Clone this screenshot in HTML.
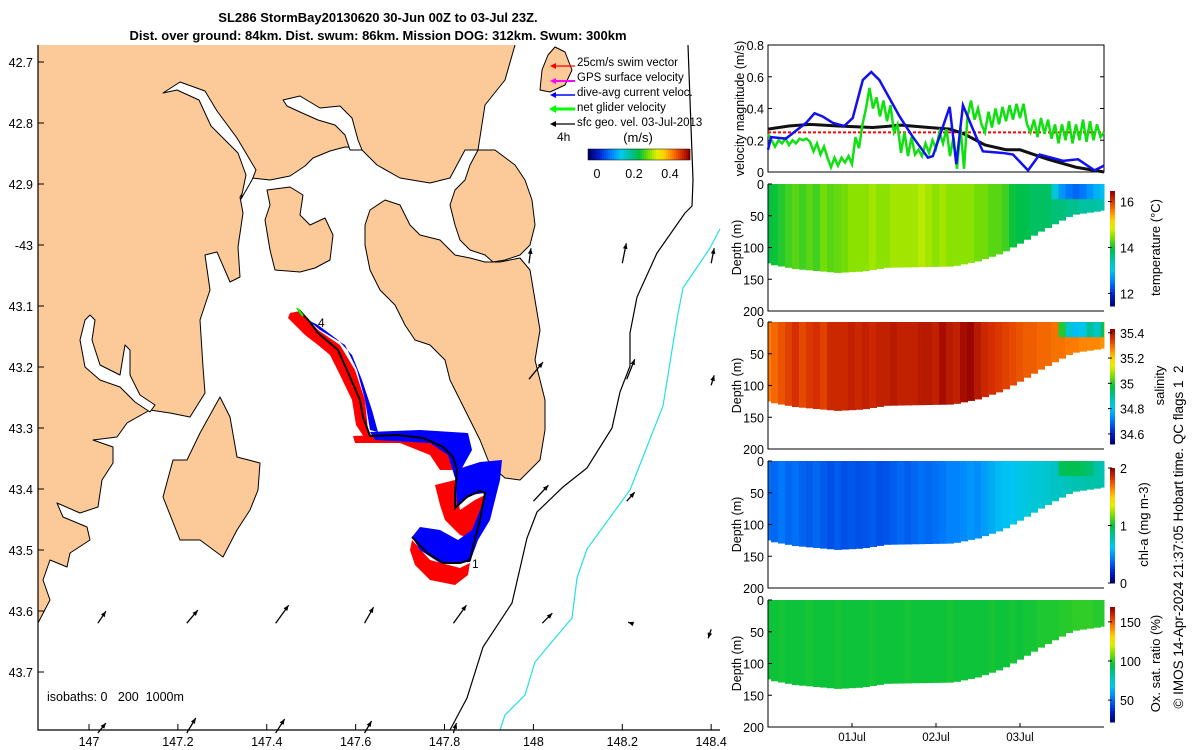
<!DOCTYPE html>
<html><head><meta charset="utf-8"><style>
html,body{margin:0;padding:0;background:#fff;}
svg{display:block;font-family:"Liberation Sans",sans-serif;}
</style></head><body>
<svg id="fig" width="1200" height="750" viewBox="0 0 1200 750" xmlns="http://www.w3.org/2000/svg">
<rect width="1200" height="750" fill="#fff"/>
<g font-weight="bold" font-size="13" text-anchor="middle" fill="#000">
<text x="378" y="22">SL286 StormBay20130620 30-Jun 00Z to 03-Jul 23Z.</text>
<text x="378" y="40">Dist. over ground: 84km. Dist. swum: 86km. Mission DOG: 312km. Swum: 300km</text>
</g>
<g id="map">
<g stroke="#000" stroke-width="1" stroke-linejoin="round">
<rect x="38" y="45" width="682" height="685" fill="#fbca98" stroke="none"/>
<polygon fill="#fff" stroke="none" points="515,45 720,45 720,730 38,730 38,623 50,600 43,580 50,560 67,567 70,553 90,540 87,527 63,517 57,503 80,513 98,507 102,480 113,463 113,447 93,440 117,437 127,423 150,410 170,413 190,417 205,393 203,367 200,320 210,290 205,255 217,252 230,282 240,277 238,247 243,213 240,197 252,178 270,180 290,176 305,166 313,158 330,151 345,147 360,148 377,165 400,178 430,183 450,178 465,150 478,150 485,105 505,80"/>
<polygon fill="#fbca98" stroke="none" points="150,60 380,60 362,147 345,147 330,151 313,158 305,166 290,176 270,180 252,178 240,160 215,120 200,95 180,82"/>
<polygon fill="#fbca98" stroke="none" points="38,190 241,190 238,247 240,277 230,282 217,252 205,255 210,290 200,320 203,367 205,393 190,417 170,413 150,410 127,423 117,437 93,440 38,440"/>
<polyline fill="none" points="38,623 50,600 43,580 50,560 67,567 70,553 90,540 87,527 63,517 57,503 80,513 98,507 102,480 113,463 113,447 93,440 117,437 127,423 150,410 170,413 190,417 205,393 203,367 200,320 210,290 205,255 217,252 230,282 240,277 238,247 243,213 240,197 252,178 270,180 290,176 305,166 313,158 330,151 345,147 360,148 377,165 400,178 430,183 450,178 465,150 478,150 485,105 505,80 515,45"/>
<polygon fill="#fff" points="241,199 246,175 238,153 211,126 199,100 177,90 163,93 180,82 205,91 217,111 237,138 256,170 252,180"/>
<polygon fill="#fff" points="283,100 300,96 320,108 340,106 352,118 358,140 362,150 350,150 345,135 335,125 318,120 300,112 287,106"/>
<polygon fill="#fff" points="90,315 95,320 92,340 100,365 120,375 125,345 130,350 130,375 140,395 155,405 150,412 135,402 120,387 100,380 85,367 80,340 85,320"/>
<g fill="#fbca98">
<polygon points="267,190 290,187 303,195 300,215 310,225 325,218 333,235 330,260 315,268 300,272 275,270 270,250 265,220 270,205"/>
<polygon points="478,150 495,150 515,165 525,180 532,200 535,225 530,245 520,255 505,260 493,262 485,255 470,250 460,240 455,225 450,205 455,190 465,180 470,165"/>
<polygon points="370,210 385,200 400,205 410,225 420,235 440,240 455,255 470,258 485,262 500,262 520,258 530,270 535,300 540,330 535,360 545,400 545,430 540,460 530,470 520,480 505,478 490,465 480,440 470,420 460,400 450,380 445,360 430,345 415,340 405,325 395,305 380,290 370,270 365,245 365,225"/>
<polygon points="220,397 230,417 237,457 260,463 258,490 250,510 237,530 223,557 200,540 180,540 163,497 173,460 187,460 200,433"/>
<polygon points="555,47 565,52 572,70 565,85 550,92 540,90 542,70 548,55"/>
</g>
</g>
<g fill="none">
<polyline stroke="#000" stroke-width="1.2" points="688,45 690,100 693,180 692,206 685,213 657,253 637,297 630,333 630,366 620,392 612,428 587,468 563,487 537,512 527,538 512,603 483,647 467,698 450,730"/>
<polyline stroke="#22e0e8" stroke-width="1.2" points="720,229 710,248 683,288 677,319 663,406 630,490 587,549 577,578 572,618 535,662 525,695 505,715 500,730"/>
</g>
<g id="vectors" stroke="#000" stroke-width="1.3"></g>
<g>
<g fill="#f00">
<polygon points="290,313 300,311 318,330 340,345 355,370 365,400 368,430 372,437 366,440 356,425 352,400 340,375 330,355 318,345 305,335 295,325 288,318"/>
<polygon points="353,436 400,434 440,442 455,455 460,470 440,470 430,455 400,443 355,443"/>
<polygon points="435,485 455,480 460,510 475,500 485,495 482,520 475,540 460,535 445,520 440,505"/>
<polygon points="412,540 430,560 460,568 470,563 468,575 455,585 430,580 415,565 410,550"/>
</g>
<g fill="#00f">
<polygon points="308,320 320,330 345,345 357,370 365,400 370,430 378,432 372,410 362,380 352,355 338,340 318,325"/>
<polygon points="370,432 420,430 468,433 472,450 462,468 455,478 448,455 430,443 375,440"/>
<polygon points="455,470 480,462 502,460 500,480 495,500 490,520 478,540 470,562 440,563 420,550 412,537 420,527 440,530 458,540 472,530 480,510 485,493 470,495 457,505"/>
</g>
<polyline fill="none" stroke="#000" stroke-width="2" points="299,310 310,322 318,333 338,350 350,377 360,400 363,417 370,436 397,435 423,438 443,447 453,457 457,470 455,493 455,508 467,497 480,491 485,493 480,520 473,547 470,560 460,563 443,563 427,553 412,537"/>
<polyline fill="none" stroke="#0f0" stroke-width="2" points="297,308 303,316"/>
<text x="318" y="327" font-size="12">4</text>
<text x="472" y="568" font-size="12">1</text>
</g>
<g font-size="11.5" fill="#000">
<line x1="575" y1="66" x2="553" y2="66" stroke="#f00" stroke-width="1.3"/><polygon points="550,66 556,63 556,69" fill="#f00"/>
<line x1="575" y1="81" x2="553" y2="81" stroke="#f0f" stroke-width="2"/><polygon points="550,81 556,78 556,84" fill="#f0f"/>
<line x1="575" y1="95" x2="553" y2="95" stroke="#00f" stroke-width="1.5"/><polygon points="550,95 556,92 556,98" fill="#00f"/>
<line x1="575" y1="109" x2="553" y2="109" stroke="#0f0" stroke-width="3"/><polygon points="549,109 556,105 556,113" fill="#0f0"/>
<line x1="575" y1="124" x2="553" y2="124" stroke="#000" stroke-width="1.3"/><polygon points="550,124 556,121 556,127" fill="#000"/>
<text x="577" y="66">25cm/s swim vector</text>
<text x="577" y="81">GPS surface velocity</text>
<text x="577" y="96">dive-avg current veloc.</text>
<text x="577" y="111">net glider velocity</text>
<text x="577" y="126">sfc geo. vel. 03-Jul-2013</text>
<text x="557" y="141" font-size="12">4h</text>
<text x="638" y="142" font-size="13" text-anchor="middle">(m/s)</text>
</g>
<g id="speedcb"></g>
<g font-size="12.5" text-anchor="middle">
<text x="597" y="178">0</text><text x="634" y="178">0.2</text><text x="670" y="178">0.4</text></g>
<text x="47" y="701" font-size="12.5">isobaths: 0&#160;&#160;&#160;200&#160;&#160;1000m</text>
<g id="mapaxes"></g>
</g>
<g id="right"></g>
<text transform="translate(1183,537) rotate(-90)" font-size="13.5" text-anchor="middle">© IMOS 14-Apr-2024 21:37:05 Hobart time. QC flags 1&#160;&#160;2</text>
</svg>
<script>
// ---- velocity panel data ----
const netVel = [0.24,0.20,0.16,0.20,0.18,0.21,0.17,0.20,0.18,0.21,0.20,0.21,0.19,0.13,0.18,0.11,0.16,0.09,0.03,0.09,0.04,0.09,0.06,0.10,0.05,0.22,0.15,0.30,0.40,0.53,0.40,0.47,0.35,0.45,0.32,0.42,0.25,0.30,0.12,0.25,0.10,0.22,0.11,0.14,0.10,0.18,0.12,0.20,0.15,0.25,0.18,0.27,0.10,0.22,0.02,0.28,0.02,0.35,0.45,0.33,0.40,0.30,0.25,0.38,0.28,0.40,0.30,0.41,0.32,0.42,0.33,0.43,0.34,0.43,0.30,0.25,0.33,0.22,0.34,0.24,0.33,0.21,0.30,0.18,0.30,0.20,0.32,0.18,0.30,0.20,0.33,0.19,0.32,0.20,0.30,0.22,0.25];
const curHours = [0,0.9,5.1,10.9,13.3,15.6,18.5,21.8,24.2,27.1,29.5,31.8,37.6,41.4,45.7,47.1,51.9,53.8,55.7,59.5,61.4,67.1,70,74.3,77.6,84.3,88.6,93.3,96];
const curVel = [0.14,0.22,0.21,0.31,0.37,0.35,0.31,0.29,0.34,0.58,0.63,0.58,0.35,0.22,0.09,0.10,0.41,0.05,0.42,0.22,0.13,0.12,0.11,0.01,0.11,0.07,0.08,0.01,0.04];
const geoHours = [0,6,12,20,30,38,46,52,56,62,68,72,80,88,96];
const geoVel = [0.27,0.29,0.30,0.29,0.28,0.295,0.28,0.27,0.24,0.17,0.14,0.14,0.08,0.03,0.0];
const swimSpeed = 0.25;
const velTicks = [0,0.2,0.4,0.6,0.8];
// ---- section data (columns every 2 h) ----
const bottomHours = [0,2,8,20,27,34,53,60,67,73,78,87,96];
const bottomDepth = [125,128,134,140,138,132,130,122,109,91,75,49,42];
const tempCols = [13.9,14.0,14.1,14.2,14.3,14.2,14.3,14.2,14.4,14.3,14.35,14.4,14.5,14.5,14.5,14.6,14.5,14.5,14.6,14.6,14.6,14.6,14.7,14.6,14.5,14.6,14.5,14.5,14.5,14.5,14.4,14.4,14.3,14.3,14.2,14.0,13.9,13.9,13.8,13.8,13.8,13.7,13.7,13.6,13.6,13.5,13.5,13.5,13.4];
const tempSurfHours = [82,84,86,88,90,92,94,96];
const tempSurf = [13.2,12.7,12.5,12.4,12.5,12.7,12.9,13.0];
const salCols = [35.28,35.30,35.32,35.34,35.36,35.33,35.35,35.36,35.34,35.37,35.37,35.37,35.38,35.37,35.38,35.37,35.38,35.38,35.39,35.38,35.38,35.38,35.39,35.39,35.38,35.41,35.39,35.38,35.41,35.42,35.39,35.37,35.36,35.35,35.34,35.33,35.32,35.31,35.31,35.30,35.30,35.29,35.29,35.28,35.28,35.27,35.27,35.27,35.26];
const salSurfHours = [84,86,88,90,92,94,96];
const salSurf = [35.0,34.85,34.8,34.82,34.9,34.85,34.95];
const chlCols = [0.4,0.38,0.42,0.38,0.4,0.37,0.35,0.38,0.35,0.32,0.35,0.32,0.34,0.32,0.33,0.35,0.32,0.33,0.35,0.38,0.35,0.38,0.4,0.38,0.4,0.42,0.45,0.45,0.47,0.5,0.48,0.52,0.56,0.6,0.62,0.63,0.66,0.68,0.7,0.7,0.72,0.74,0.74,0.76,0.78,0.78,0.8,0.8,0.78];
const chlSurfHours = [84,86,88,90,92];
const chlSurf = [0.95,0.97,0.97,0.95,0.9];
const oxyCols = [97,97,98,97,97,97,98,97,97,97,98,97,97,97,97,98,97,97,97,97,98,97,97,97,97,97,98,97,97,97,97,97,98,97,97,98,97,98,98,99,99,99,100,100,101,101,101,100,100];
const depthTicks = [0,50,100,150,200];
const dayLabels = ["01Jul","02Jul","03Jul"];
const dayHours = [24,48,72];
const tempTicks = [12,14,16], salTicks=[34.6,34.8,35,35.2,35.4], chlTicks=[0,1,2], oxyTicks=[50,100,150];
// ---- map vectors (lon,lat,u,v) ----
const vecLon = [147.99,148.2,148.4,147.99,148.21,148.4,148.0,148.21,147.02,147.22,147.42,147.62,147.82,148.02,148.22,148.4,147.02,147.22,147.42,147.62,147.82];
const vecLat = [43.03,43.03,43.03,43.22,43.22,43.23,43.42,43.42,43.62,43.62,43.62,43.62,43.62,43.62,43.62,43.63,43.8,43.8,43.8,43.8,43.8];
const vecU = [0.02,0.04,0.03,0.14,0.08,0.03,0.15,0.08,0.08,0.11,0.13,0.09,0.13,0.10,-0.03,-0.03,0.08,0.09,0.09,0.07,0.03];
const vecV = [0.15,0.2,0.15,0.17,0.2,0.1,0.16,0.09,0.12,0.13,0.18,0.16,0.18,0.1,0.01,-0.09,0.1,0.15,0.14,0.12,0.1];
const lonTicks=[147,147.2,147.4,147.6,147.8,148,148.2,148.4];
const latTicks=[42.7,42.8,42.9,43,43.1,43.2,43.3,43.4,43.5,43.6,43.7];
const latLabels=["42.7","42.8","42.9","-43","43.1","43.2","43.3","43.4","43.5","43.6","43.7"];

const NS="http://www.w3.org/2000/svg";
function mk(tag,attrs,parent){const e=document.createElementNS(NS,tag);for(const k in attrs)e.setAttribute(k,attrs[k]);parent.appendChild(e);return e;}
const stops=[[0,[0,0,106]],[0.1,[0,32,208]],[0.22,[0,128,255]],[0.32,[0,200,240]],[0.42,[0,192,150]],[0.5,[0,192,64]],[0.6,[128,224,0]],[0.68,[224,240,0]],[0.75,[255,208,0]],[0.83,[255,128,0]],[0.92,[216,48,0]],[1,[144,0,0]]];
function cmap(t){t=Math.max(0,Math.min(1,t));for(let i=1;i<stops.length;i++){if(t<=stops[i][0]){const a=stops[i-1],b=stops[i],f=(t-a[0])/(b[0]-a[0]);return "rgb("+a[1].map((c,j)=>Math.round(c+(b[1][j]-c)*f)).join(",")+")";}}return "rgb(144,0,0)";}
function interp(xs,ys,x){if(x<=xs[0])return ys[0];for(let i=1;i<xs.length;i++){if(x<=xs[i]){const f=(x-xs[i-1])/(xs[i]-xs[i-1]);return ys[i-1]+(ys[i]-ys[i-1])*f;}}return ys[ys.length-1];}

const mx=lon=>89+(lon-147)*444.4, my=lat=>62+(lat-42.7)*610;
const ax=document.getElementById('mapaxes');
const axl=mk('path',{d:'M38,45 V730 H720',fill:'none',stroke:'#000','stroke-width':1.2},ax);


lonTicks.forEach(l=>{const x=mx(l);mk('line',{x1:x,y1:730,x2:x,y2:724,stroke:'#000'},ax);
 const t=mk('text',{x:x,y:746,'font-size':12.5,'text-anchor':'middle'},ax);t.textContent=String(l);
 
 });
latTicks.forEach((l,i)=>{const y=my(l);mk('line',{x1:38,y1:y,x2:44,y2:y,stroke:'#000'},ax);
 const t=mk('text',{x:33,y:y+5,'font-size':12.5,'text-anchor':'end'},ax);t.textContent=latLabels[i];
 
 });
const vg=document.getElementById('vectors');
vecLon.forEach((l,i)=>{const x0=mx(l),y0=my(vecLat[i]);const x1=x0+vecU[i]*100,y1=y0-vecV[i]*100;
 const g=mk('g',{},vg);
 
 
 mk('line',{x1:x0,y1:y0,x2:x1,y2:y1},g);
 const a=Math.atan2(y1-y0,x1-x0),L=6;
 mk('polygon',{points:`${x1},${y1} ${x1-L*Math.cos(a-0.4)},${y1-L*Math.sin(a-0.4)} ${x1-L*Math.cos(a+0.4)},${y1-L*Math.sin(a+0.4)}`,fill:'#000',stroke:'none'},g);});
const sc=document.getElementById('speedcb');
for(let i=0;i<51;i++){mk('rect',{x:588+i*2,y:149,width:2.2,height:11,fill:cmap(i/50)},sc);}
mk('rect',{x:588,y:149,width:102,height:11,fill:'none',stroke:'#000','stroke-width':0.5},sc);

const R=document.getElementById('right');
const X0=768,X1=1104,tx=h=>X0+h*(X1-X0)/96;
const VT=45,VB=172,vy=v=>VB-v*(VB-VT)/0.8;
const vp=mk('g',{},R);


mk('rect',{x:X0,y:VT,width:X1-X0,height:VB-VT,fill:'none',stroke:'#000'},vp);
velTicks.forEach(v=>{const y=vy(v);mk('line',{x1:X0,y1:y,x2:X0+4,y2:y,stroke:'#000'},vp);mk('line',{x1:X1,y1:y,x2:X1-4,y2:y,stroke:'#000'},vp);
 const t=mk('text',{x:X0-4,y:y+5,'font-size':12.5,'text-anchor':'end'},vp);t.textContent=String(v);
 
 });
const vl=mk('text',{transform:`translate(744,${(VT+VB)/2}) rotate(-90)`,'font-size':12.5,'text-anchor':'middle'},vp);vl.textContent='velocity magnitude (m/s)';


const sw=mk('line',{x1:tx(0),y1:vy(swimSpeed),x2:tx(96),y2:vy(swimSpeed),stroke:'#f00','stroke-width':2,'stroke-dasharray':'3,2'},vp);


const geo=mk('polyline',{points:geoHours.map((h,i)=>tx(h)+','+vy(geoVel[i])).join(' '),fill:'none',stroke:'#111','stroke-width':3},vp);


const net=mk('polyline',{points:netVel.map((v,i)=>tx(i*96/(netVel.length-1))+','+vy(v)).join(' '),fill:'none',stroke:'#10e010','stroke-width':2.5},vp);


const cur=mk('polyline',{points:curHours.map((h,i)=>tx(h)+','+vy(curVel[i])).join(' '),fill:'none',stroke:'#1010f0','stroke-width':2.5},vp);



function section(name,top,cols,sh,sv,vmin,vmax,ticks,label,showX){
 const H=127,py=d=>top+d*H/200,cy0=top+7,cy1=top+122,g=mk('g',{},R);
 
 
 cols.forEach((v,i)=>{const h=i*2,bd=interp(bottomHours,bottomDepth,h);
  const r=mk('rect',{x:tx(Math.max(0,h-1))-0.5,y:top,width:tx(Math.min(96,h+1))-tx(Math.max(0,h-1))+1,height:py(bd)-top,fill:cmap((v-vmin)/(vmax-vmin))},g);
  
  });
 sh.forEach((h,i)=>{const r=mk('rect',{x:tx(h-1),y:top,width:tx(Math.min(96,h+1))-tx(h-1),height:py(24)-top,fill:cmap((sv[i]-vmin)/(vmax-vmin))},g);
  
  });
 mk('path',{d:`M${X0},${top} V${top+H} H${X1}`,fill:'none',stroke:'#000'},g);
 depthTicks.forEach(d=>{const y=py(d);mk('line',{x1:X0,y1:y,x2:X0+4,y2:y,stroke:'#000'},g);
  const t=mk('text',{x:X0-4,y:y+5,'font-size':12.5,'text-anchor':'end'},g);t.textContent=String(d);
  
  });
 const yl=mk('text',{transform:`translate(741,${top+H/2}) rotate(-90)`,'font-size':12.5,'text-anchor':'middle'},g);yl.textContent='Depth (m)';
 
 
 for(let i=0;i<40;i++){mk('rect',{x:1110,y:cy1-(i+1)*(cy1-cy0)/40,width:5,height:(cy1-cy0)/40+0.5,fill:cmap((i+0.5)/40)},g);}
 ticks.forEach(v=>{const y=cy1-(v-vmin)/(vmax-vmin)*(cy1-cy0);mk('line',{x1:1108,y1:y,x2:1112,y2:y,stroke:'#000'},g);
  const t=mk('text',{x:1120,y:y+5,'font-size':12.5},g);t.textContent=String(v);
  
  });
 const cl=mk('text',{transform:`translate(${label[1]},${top+H/2}) rotate(-90)`,'font-size':13,'text-anchor':'middle'},g);cl.textContent=label[0];
 
 
 if(showX){dayHours.forEach((h,i)=>{const x=tx(h);mk('line',{x1:x,y1:top+H,x2:x,y2:top+H-4,stroke:'#000'},g);
  const t=mk('text',{x:x,y:top+H+14,'font-size':11.5,'text-anchor':'middle'},g);t.textContent=dayLabels[i];
  
  });}
}
section('temperature',184,tempCols,tempSurfHours,tempSurf,11.45,16.46,tempTicks,['temperature (°C)',1160],false);
section('salinity',322,salCols,salSurfHours,salSurf,34.52,35.43,salTicks,['salinity',1164],false);
section('chlorophyll',461,chlCols,chlSurfHours,chlSurf,0,2,chlTicks,['chl-a (mg m-3)',1148],false);
section('oxygen',600,oxyCols,[],[],22,169,oxyTicks,['Ox. sat. ratio (%)',1160],true);
</script>
</body></html>
